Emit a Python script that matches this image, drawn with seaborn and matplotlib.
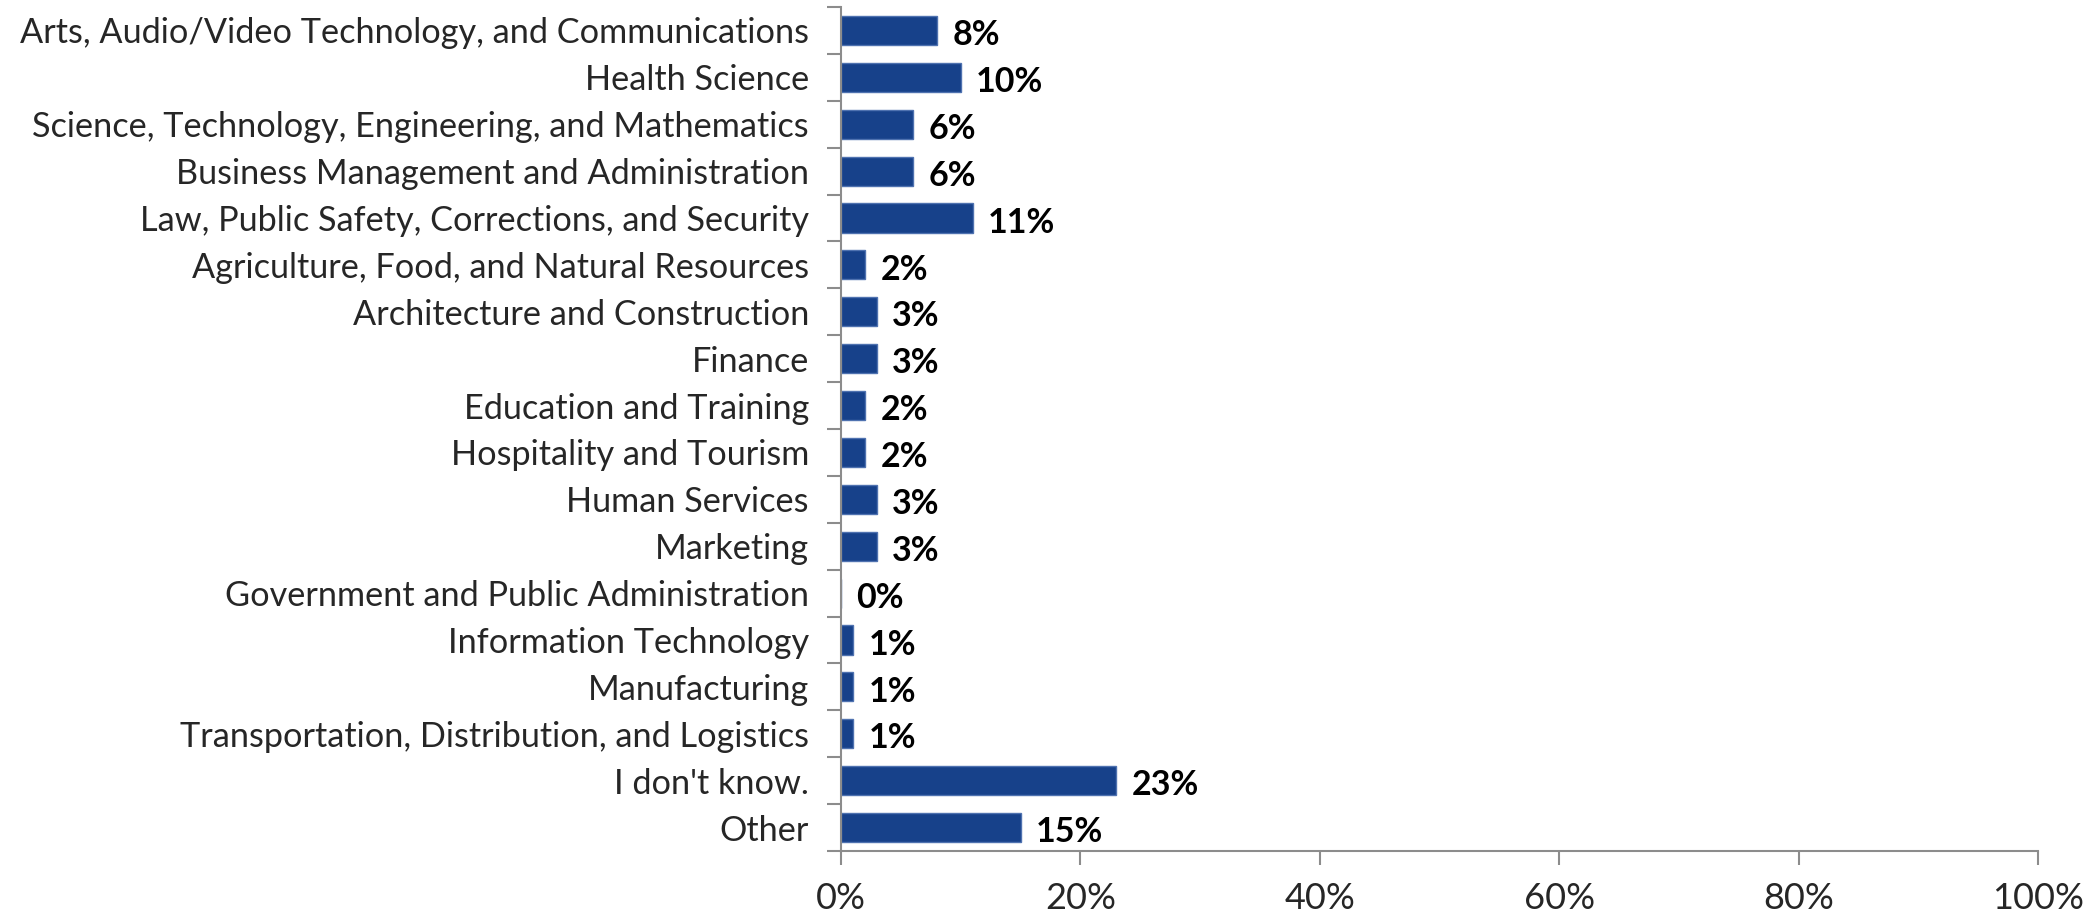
import matplotlib
matplotlib.use("Agg")
import matplotlib.pyplot as plt
import seaborn as sns
import pandas as pd
from matplotlib.ticker import FixedLocator, PercentFormatter

# les données du graphique
categories = [
    "Arts, Audio/Video Technology, and Communications",
    "Health Science",
    "Science, Technology, Engineering, and Mathematics",
    "Business Management and Administration",
    "Law, Public Safety, Corrections, and Security",
    "Agriculture, Food, and Natural Resources",
    "Architecture and Construction",
    "Finance",
    "Education and Training",
    "Hospitality and Tourism",
    "Human Services",
    "Marketing",
    "Government and Public Administration",
    "Information Technology",
    "Manufacturing",
    "Transportation, Distribution, and Logistics",
    "I don't know.",
    "Other",
]
values = [8, 10, 6, 6, 11, 2, 3, 3, 2, 2, 3, 3, 0, 1, 1, 1, 23, 15]
x_ticks = [0, 20, 40, 60, 80, 100]

df = pd.DataFrame({"cat": categories, "val": values})

sns.set_style("white")
plt.rcParams["font.family"] = ["Lato", "DejaVu Sans"]

fig = plt.figure(figsize=(20.97, 9.15), dpi=100)
ax = fig.add_axes([0.401, 0.07, 0.571, 0.9223])

sns.barplot(data=df, x="val", y="cat", orient="h", color="#17418A",
            width=0.62, edgecolor="#4F72B0", linewidth=1, saturation=1, ax=ax)

for i, v in enumerate(values):
    ax.text(v + 1.3, i + 0.1, f"{v}%", va="center", ha="left",
            fontsize=24.5, fontweight="bold", color="black")

ax.set_xlim(0, 100)
ax.set_ylim(len(categories) - 0.5, -0.5)
ax.set_xticks(x_ticks)
ax.xaxis.set_major_formatter(PercentFormatter(decimals=0))
ax.set_xlabel("")
ax.set_ylabel("")

# ticks de l'axe y entre les catégories
ax.yaxis.set_minor_locator(FixedLocator([i - 0.5 for i in range(len(categories) + 1)]))
ax.tick_params(axis="y", which="major", length=0, pad=23, labelsize=24.7)
ax.tick_params(axis="y", which="minor", length=10, width=1.5, color="#8C8C8C", left=True)
ax.tick_params(axis="x", which="major", length=10, width=1.5, color="#8C8C8C",
               bottom=True, pad=12, labelsize=26)

for side in ["top", "right"]:
    ax.spines[side].set_visible(False)
for side in ["left", "bottom"]:
    ax.spines[side].set_color("#8C8C8C")
    ax.spines[side].set_linewidth(1.5)

fig.savefig("out.png", dpi=100)
